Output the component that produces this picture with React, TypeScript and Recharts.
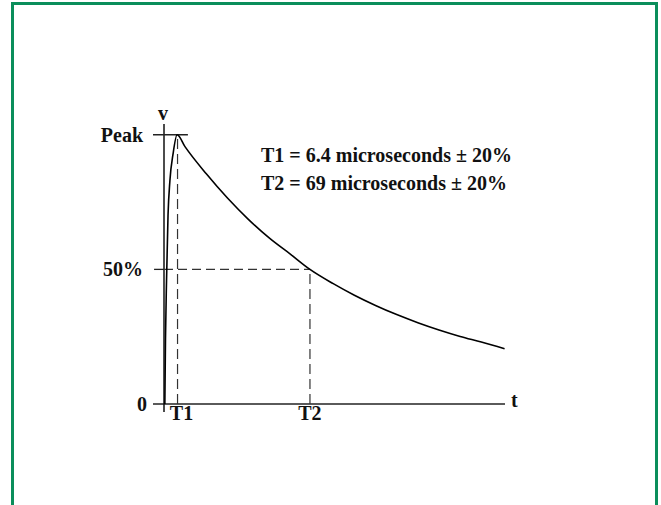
import { LineChart, Line, XAxis, YAxis, ReferenceLine } from 'recharts'

// time in microseconds, voltage as a fraction of peak
const TIME_US = [0.4, 0.7, 1.2, 1.9, 2.8, 4.3, 6.2, 10, 20, 30, 40, 50, 60, 69, 80, 90, 100, 110, 120, 130, 140, 150, 161]
const VOLTAGE = [0, 0.24, 0.46, 0.7, 0.83, 0.93, 1.0, 0.955, 0.855, 0.765, 0.685, 0.615, 0.555, 0.5, 0.447, 0.404, 0.366, 0.332, 0.302, 0.275, 0.251, 0.23, 0.205]

const X_TICKS = [6.4, 69]
const X_LABELS = ['T1', 'T2']
const Y_TICKS = [0, 0.5, 1]
const Y_LABELS = ['0', '50%', 'Peak']
const NOTES = ['T1 = 6.4 microseconds \u00b1 20%', 'T2 = 69 microseconds \u00b1 20%']

const T1 = 6.4
const T2 = 69

const data = TIME_US.map((t, i) => ({ t, v: VOLTAGE[i] }))

const FONT = '"Liberation Serif", "Times New Roman", serif'

const XTick = ({ x, y, payload }: any) => {
  const i = X_TICKS.indexOf(payload.value)
  return (
    <text x={x + (i === 0 ? 4 : 0)} y={y} dy="0.72em" textAnchor="middle"
      fontFamily={FONT} fontWeight="bold" fontSize={20} fill="#111">
      {X_LABELS[i]}
    </text>
  )
}

const YTick = ({ x, y, payload }: any) => {
  const i = Y_TICKS.indexOf(payload.value)
  return (
    <text x={x + (i === 0 ? 4 : 0)} y={y} dy="0.35em" textAnchor="end"
      fontFamily={FONT} fontWeight="bold" fontSize={20} fill="#111">
      {Y_LABELS[i]}
    </text>
  )
}

const textStyle: React.CSSProperties = {
  position: 'absolute',
  fontFamily: FONT,
  fontWeight: 'bold',
  fontSize: 20,
  lineHeight: '20px',
  color: '#111',
  whiteSpace: 'nowrap',
}

export default function App() {
  return (
    <div style={{ position: 'absolute', left: 0, top: 0, width: 661, height: 505, overflow: 'hidden', background: '#fff' }}>
      <div style={{
        position: 'absolute', left: 11, top: 2, width: 647, height: 600,
        border: '3px solid #0b8e5b', boxSizing: 'border-box',
      }} />
      <div style={{ position: 'absolute', left: 0, top: 0 }}>
        <LineChart width={661} height={505} data={data}
          margin={{ top: 124, right: 156, bottom: 71, left: 104 }}>
          <XAxis type="number" dataKey="t" domain={[0, 161.2]} ticks={X_TICKS}
            axisLine={false} tickLine={false} tickSize={0} tickMargin={2}
            height={30} tick={<XTick />} allowDataOverflow />
          <YAxis type="number" domain={[0, 1.04]} ticks={Y_TICKS}
            axisLine={false} tickLine={false} tickSize={0} tickMargin={21}
            width={60} tick={<YTick />} allowDataOverflow />
          {/* axes */}
          <ReferenceLine segment={[{ x: -5.2, y: 0 }, { x: 161.2, y: 0 }]} stroke="#5a5a5a" strokeWidth={2} ifOverflow="visible" />
          <ReferenceLine segment={[{ x: 0, y: -0.03 }, { x: 0, y: 1.04 }]} stroke="#111" strokeWidth={1.5} ifOverflow="visible" />
          <ReferenceLine segment={[{ x: -5.2, y: 1 }, { x: 11.3, y: 1 }]} stroke="#222" strokeWidth={1.3} ifOverflow="visible" />
          <ReferenceLine segment={[{ x: -4.7, y: 0.5 }, { x: 0, y: 0.5 }]} stroke="#222" strokeWidth={1.3} ifOverflow="visible" />
          {/* guide lines */}
          <ReferenceLine segment={[{ x: 0, y: 0.5 }, { x: T2, y: 0.5 }]} stroke="#333" strokeWidth={1.2} strokeDasharray="9 5" ifOverflow="visible" />
          <ReferenceLine segment={[{ x: T1, y: 0 }, { x: T1, y: 1 }]} stroke="#333" strokeWidth={1.2} strokeDasharray="10 5" ifOverflow="visible" />
          <ReferenceLine segment={[{ x: T2, y: 0 }, { x: T2, y: 0.5 }]} stroke="#333" strokeWidth={1.2} strokeDasharray="10 5" ifOverflow="visible" />
          <Line type="monotone" dataKey="v" stroke="#000" strokeWidth={1.6} dot={false} isAnimationActive={false} />
        </LineChart>
      </div>
      <div style={{ ...textStyle, left: 158, top: 103 }}>v</div>
      <div style={{ ...textStyle, left: 511, top: 390 }}>t</div>
      <div style={{ ...textStyle, left: 261, top: 145 }}>{NOTES[0]}</div>
      <div style={{ ...textStyle, left: 261, top: 173 }}>{NOTES[1]}</div>
    </div>
  )
}
